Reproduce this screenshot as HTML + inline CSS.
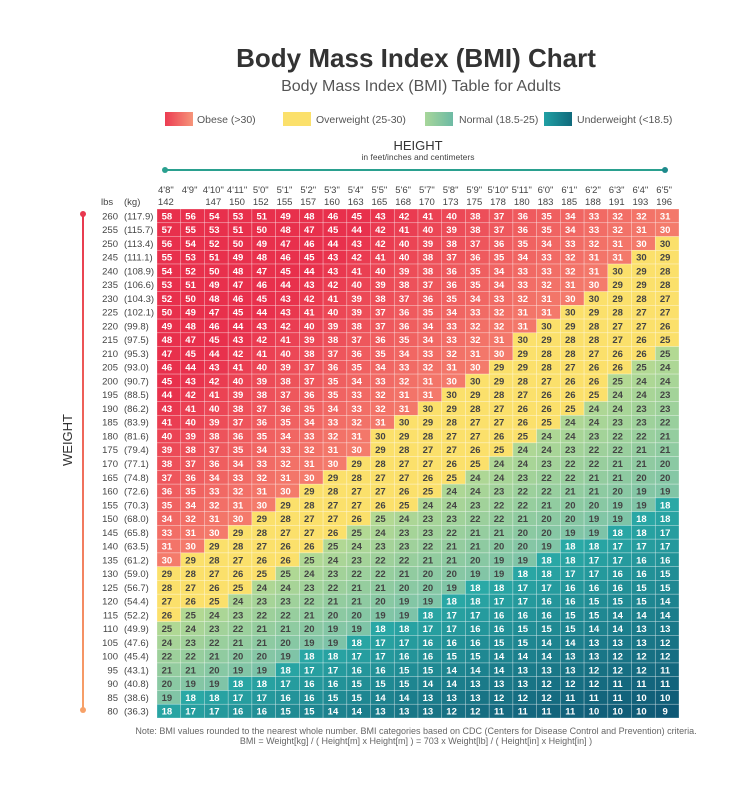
<!DOCTYPE html>
<html><head><meta charset="utf-8">
<style>
body{margin:0;background:#fff;font-family:"Liberation Sans",sans-serif;}
svg text{font-family:"Liberation Sans",sans-serif;}
</style></head>
<body>
<svg id="chart" width="740" height="791" viewBox="0 0 740 791" xmlns="http://www.w3.org/2000/svg">
<defs>
<linearGradient id="gObese" x1="0" x2="1"><stop offset="0" stop-color="#ec3c52"/><stop offset="1" stop-color="#f6957a"/></linearGradient>
<linearGradient id="gNormal" x1="0" x2="1"><stop offset="0" stop-color="#a7d69a"/><stop offset="1" stop-color="#6dbaa4"/></linearGradient>
<linearGradient id="gUnder" x1="0" x2="1"><stop offset="0" stop-color="#21a0a4"/><stop offset="1" stop-color="#106a7c"/></linearGradient>
<linearGradient id="gWeight" gradientUnits="userSpaceOnUse" x1="0" x2="0" y1="214" y2="710"><stop offset="0" stop-color="#e8384f"/><stop offset="1" stop-color="#f7a168"/></linearGradient>
</defs>
<text x="416" y="67" text-anchor="middle" font-size="26" font-weight="bold" fill="#333">Body Mass Index (BMI) Chart</text>
<text x="421" y="91" text-anchor="middle" font-size="16" fill="#555">Body Mass Index (BMI) Table for Adults</text>
<g font-size="10.5" fill="#555">
<rect x="165" y="112" width="28" height="14" fill="url(#gObese)"/>
<text x="197" y="123">Obese (&gt;30)</text>
<rect x="283" y="112" width="28" height="14" fill="#fbe06b"/>
<text x="316" y="123">Overweight (25-30)</text>
<rect x="425" y="112" width="28" height="14" fill="url(#gNormal)"/>
<text x="459" y="123">Normal (18.5-25)</text>
<rect x="544" y="112" width="28" height="14" fill="url(#gUnder)"/>
<text x="577" y="123">Underweight (&lt;18.5)</text>
</g>
<text x="418" y="150" text-anchor="middle" font-size="13" fill="#333">HEIGHT</text>
<text x="418" y="160" text-anchor="middle" font-size="8.5" fill="#444">in feet/inches and centimeters</text>
<line x1="165" y1="170" x2="665" y2="170" stroke="#2aa08f" stroke-width="2"/>
<circle cx="165" cy="170" r="3" fill="#2aa08f"/><circle cx="665" cy="170" r="3" fill="#1e8a8c"/>
<line x1="83" y1="214" x2="83" y2="710" stroke="url(#gWeight)" stroke-width="2"/>
<circle cx="83" cy="214" r="3" fill="#e8384f"/><circle cx="83" cy="710" r="3" fill="#f7a168"/>
<text transform="translate(72,440) rotate(-90)" text-anchor="middle" font-size="13" fill="#333">WEIGHT</text>
<text x="101" y="205" font-size="9.5" fill="#444">lbs</text>
<text x="124" y="205" font-size="9.5" fill="#444">(kg)</text>
<g id="cells"></g>
<text x="416" y="734" text-anchor="middle" font-size="9" fill="#666">Note: BMI values rounded to the nearest whole number. BMI categories based on CDC (Centers for Disease Control and Prevention) criteria.</text>
<text x="416" y="744" text-anchor="middle" font-size="9" fill="#666">BMI = Weight[kg] / ( Height[m] x Height[m] ) = 703 x Weight[lb] / ( Height[in] x Height[in] )</text>
</svg>
<script>
const heightFt = ["4'8\"","4'9\"","4'10\"","4'11\"","5'0\"","5'1\"","5'2\"","5'3\"","5'4\"","5'5\"","5'6\"","5'7\"","5'8\"","5'9\"","5'10\"","5'11\"","6'0\"","6'1\"","6'2\"","6'3\"","6'4\"","6'5\""];
const heightIn = [56,57,58,59,60,61,62,63,64,65,66,67,68,69,70,71,72,73,74,75,76,77];
const heightCm = ["142","","147","150","152","155","157","160","163","165","168","170","173","175","178","180","183","185","188","191","193","196"];
const weightLb = [260,255,250,245,240,235,230,225,220,215,210,205,200,195,190,185,180,175,170,165,160,155,150,145,140,135,130,125,120,115,110,105,100,95,90,85,80];
const weightKg = ["117.9","115.7","113.4","111.1","108.9","106.6","104.3","102.1","99.8","97.5","95.3","93.0","90.7","88.5","86.2","83.9","81.6","79.4","77.1","74.8","72.6","70.3","68.0","65.8","63.5","61.2","59.0","56.7","54.4","52.2","49.9","47.6","45.4","43.1","40.8","38.6","36.3"];

const NS="http://www.w3.org/2000/svg";
const gx0=157, gx1=679, gy0=209, gy1=718;
const cw=(gx1-gx0)/heightIn.length, rh=(gy1-gy0)/weightLb.length;
function xPos(i){return gx0+i*cw;}
function yPos(j){return gy0+j*rh;}
function mix(a,b,t){t=Math.max(0,Math.min(1,t));const pa=[1,3,5].map(k=>parseInt(a.substr(k,2),16)),pb=[1,3,5].map(k=>parseInt(b.substr(k,2),16));return 'rgb('+pa.map((v,k)=>Math.round(v+(pb[k]-v)*t)).join(',')+')';}
function color(b){
  if(b>30) return [mix('#f47c6c','#e8304c',(b-30)/14),'#fff'];
  if(b>=25) return ['#fbe06b','#444'];
  if(b>=18.5) return [mix('#7cc3a8','#b3d993',(b-18.5)/6.5),'#444'];
  return [mix('#0d5472','#2aa9a6',(b-9)/9.5),'#fff'];
}
function mk(tag,attrs,parent){const e=document.createElementNS(NS,tag);for(const k in attrs)e.setAttribute(k,attrs[k]);parent.appendChild(e);return e;}
const g=document.getElementById('cells');
heightFt.forEach((h,i)=>{
  const t=mk('text',{x:xPos(i)+cw/2-3,y:193,'text-anchor':'middle','font-size':9.5,fill:'#444'},g);
  
  
  t.textContent=h;
  const c=mk('text',{x:xPos(i)+cw/2-3,y:205,'text-anchor':'middle','font-size':9.5,fill:'#444'},g);
  
  
  c.textContent=heightCm[i];
});
weightLb.forEach((w,j)=>{
  const y=yPos(j)+rh/2+3.5;
  const a=mk('text',{x:118,y:y,'text-anchor':'end','font-size':9.5,fill:'#444'},g);
  
  
  a.textContent=w;
  const b=mk('text',{x:124,y:y,'font-size':9.5,fill:'#444'},g);
  
  
  b.textContent='('+weightKg[j]+')';
  heightIn.forEach((h,i)=>{
    const bmi=703*w/(h*h);
    const [fill,tc]=color(bmi);
    const r=mk('rect',{x:xPos(i),y:yPos(j),width:cw,height:rh,fill:fill,stroke:'rgba(255,255,255,0.45)','stroke-width':0.6},g);
    
    
    const t=mk('text',{x:xPos(i)+cw/2-2,y:y,'text-anchor':'middle','font-size':9.5,'font-weight':'bold',fill:tc},g);
    
    
    t.textContent=Math.round(bmi);
  });
});
</script>
</body></html>
